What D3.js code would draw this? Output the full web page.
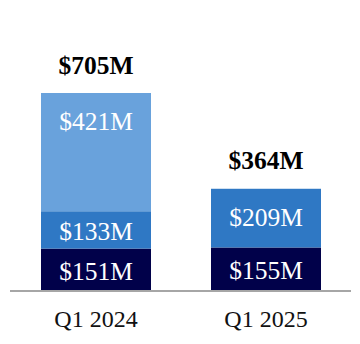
<!DOCTYPE html>
<html><head><meta charset="utf-8">
<script src="https://cdn.jsdelivr.net/npm/d3@7"></script>
<style>html,body{margin:0;padding:0;background:#fff;}svg{display:block;}</style>
</head><body><svg id="c" width="360" height="344"></svg>
<script>
const categories = ["Q1 2024", "Q1 2025"];
const seriesNames = ["base", "middle", "top"];
const baseValues = [151, 155];
const middleValues = [133, 209];
const topValues = [421, 0];
const totals = [705, 364];
const colors = ["#01014a", "#2f78c4", "#69a2dc"];

const rows = categories.map((c, i) => ({cat: c, base: baseValues[i], middle: middleValues[i], top: topValues[i], total: totals[i]}));
const stack = d3.stack().keys(seriesNames)(rows);

const svg = d3.select("#c");
const x = d3.scaleBand().domain(categories).range([11, 351]).paddingInner(0.353).paddingOuter(0.1765);
const y = d3.scaleLinear().domain([0, d3.max(totals)]).range([291, 93]);
const font = "'Liberation Serif','Times New Roman',serif";

stack.forEach((layer, li) => {
  const g = svg.append("g");
  layer.forEach((d, i) => {
    if (d[1] - d[0] <= 0) return;
    const top = y(d[1]), bot = y(d[0]);
    g.append("rect").attr("x", x(categories[i])).attr("width", x.bandwidth())
      .attr("y", top).attr("height", bot - top).attr("fill", colors[li]);
    const cy = Math.min((top + bot) / 2, top + 27);
    g.append("text").attr("x", x(categories[i]) + x.bandwidth() / 2).attr("y", cy + 10)
      .attr("text-anchor", "middle").attr("fill", "#fff")
      .style("font-family", font).style("font-size", "25.5px")
      .text("$" + (d[1] - d[0]) + "M");
  });
});

rows.forEach(r => {
  svg.append("text").attr("x", x(r.cat) + x.bandwidth() / 2).attr("y", y(r.total) - 19.5)
    .attr("text-anchor", "middle").attr("fill", "#000")
    .style("font-family", font).style("font-size", "25.5px").style("font-weight", "bold")
    .text("$" + r.total + "M");
});

const axis = d3.axisBottom(x).tickSize(0).tickPadding(0);
const ax = svg.append("g").attr("transform", "translate(0,291)").call(axis);
ax.select(".domain").attr("stroke", "#a6a6a6").attr("stroke-width", 2).attr("d", "M10,0H351");
ax.selectAll("text").attr("dy", null).attr("y", 36).attr("fill", "#111")
  .style("font-family", font).style("font-size", "24px");
</script></body></html>
